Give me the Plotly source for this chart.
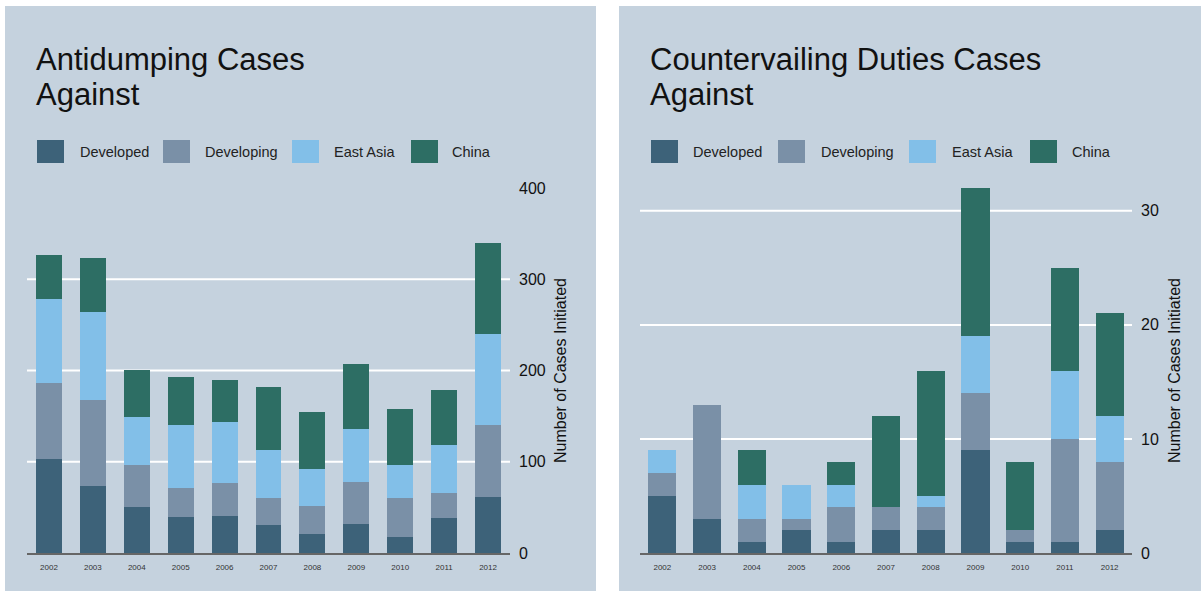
import plotly.graph_objects as go

# ---------------- data ----------------
years = ["2002", "2003", "2004", "2005", "2006", "2007", "2008", "2009", "2010", "2011", "2012"]
series_names = ["Developed", "Developing", "East Asia", "China"]

ad_developed = [103, 73, 50, 39, 41, 31, 21, 32, 17, 38, 61]
ad_developing = [83, 95, 46, 32, 36, 29, 31, 46, 43, 28, 79]
ad_east_asia = [92, 96, 53, 69, 67, 53, 40, 58, 36, 52, 100]
ad_china = [49, 59, 52, 53, 46, 69, 63, 71, 62, 61, 100]

cvd_developed = [5, 3, 1, 2, 1, 2, 2, 9, 1, 1, 2]
cvd_developing = [2, 10, 2, 1, 3, 2, 2, 5, 1, 9, 6]
cvd_east_asia = [2, 0, 3, 3, 2, 0, 1, 5, 0, 6, 4]
cvd_china = [0, 0, 3, 0, 2, 8, 11, 13, 6, 9, 9]

ad_ticks = [0, 100, 200, 300, 400]
cvd_ticks = [0, 10, 20, 30]

title_left = ["Antidumping Cases", "Against"]
title_right = ["Countervailing Duties Cases", "Against"]
axis_title = "Number of Cases Initiated"

# ---------------- style ----------------
W, H = 1201, 591
colors = ["#3d6279", "#7a90a7", "#82bfe8", "#2d6e64"]
panel_bg = "#c5d2de"
FONT = "Liberation Sans, Arial, sans-serif"


def px_x(x):
    return x / W


def px_y(y):
    return 1 - y / H


fig = go.Figure()

ad_series = [ad_developed, ad_developing, ad_east_asia, ad_china]
cvd_series = [cvd_developed, cvd_developing, cvd_east_asia, cvd_china]

for name, vals, col in zip(series_names, ad_series, colors):
    fig.add_trace(go.Bar(x=years, y=vals, name=name, marker=dict(color=col, line=dict(width=0)),
                         width=0.59, xaxis="x", yaxis="y", showlegend=False))
for name, vals, col in zip(series_names, cvd_series, colors):
    fig.add_trace(go.Bar(x=years, y=vals, name=name, marker=dict(color=col, line=dict(width=0)),
                         width=0.63, xaxis="x2", yaxis="y2", showlegend=False))

shapes = []
annotations = []

# panel backgrounds
shapes.append(dict(type="rect", xref="paper", yref="paper", x0=px_x(5), x1=px_x(596),
                   y0=0, y1=px_y(6), fillcolor=panel_bg, line=dict(width=0), layer="below"))
shapes.append(dict(type="rect", xref="paper", yref="paper", x0=px_x(619), x1=1,
                   y0=0, y1=px_y(6), fillcolor=panel_bg, line=dict(width=0), layer="below"))

# gridlines (white, excluding zero and top)
for t in ad_ticks[1:-1]:
    shapes.append(dict(type="line", xref="x domain", yref="y", x0=0, x1=1, y0=t, y1=t,
                       line=dict(color="white", width=2), layer="below"))
for t in cvd_ticks[1:]:
    shapes.append(dict(type="line", xref="x2 domain", yref="y2", x0=0, x1=1, y0=t, y1=t,
                       line=dict(color="white", width=2), layer="below"))

# titles
for lines, x0 in ((title_left, 37), (title_right, 651)):
    for i, line in enumerate(lines):
        annotations.append(dict(text=line, xref="paper", yref="paper", x=px_x(x0 - 3),
                                y=px_y(59 + 35 * i), xanchor="left", yanchor="middle",
                                showarrow=False, font=dict(size=31, color="#111", family=FONT)))

# legends
legend_left_sq = [37, 163, 292, 411]
legend_left_tx = [80, 205, 334, 452]
legend_right_sq = [651, 778, 909, 1030]
legend_right_tx = [693, 821, 952, 1072]
for sqs, txs in ((legend_left_sq, legend_left_tx), (legend_right_sq, legend_right_tx)):
    for name, col, sx, tx in zip(series_names, colors, sqs, txs):
        shapes.append(dict(type="rect", xref="paper", yref="paper", x0=px_x(sx), x1=px_x(sx + 27),
                           y0=px_y(163), y1=px_y(140), fillcolor=col, line=dict(width=0)))
        annotations.append(dict(text=name, xref="paper", yref="paper", x=px_x(tx - 2), y=px_y(152),
                                xanchor="left", yanchor="middle", showarrow=False,
                                font=dict(size=14.5, color="#222", family=FONT)))

ydom = [px_y(553), px_y(188)]
xaxis_common = dict(type="category", showgrid=False, showline=True, linecolor="#666", linewidth=2,
                    ticks="", tickfont=dict(size=8, color="#333", family=FONT), range=[-0.5, 10.5],
                    fixedrange=True, zeroline=False, automargin=False, ticklabelstandoff=5)
yaxis_common = dict(side="right", showgrid=False, zeroline=False, ticks="", showline=False,
                    tickfont=dict(size=16, color="#111", family=FONT), ticklabelstandoff=8,
                    automargin=False, fixedrange=True,
                    title=dict(text=axis_title, font=dict(size=16, color="#111", family=FONT), standoff=10))

fig.update_layout(
    width=W, height=H, margin=dict(l=0, r=0, t=0, b=0, autoexpand=False),
    paper_bgcolor="white", plot_bgcolor="rgba(0,0,0,0)",
    barmode="stack", showlegend=False,
    font=dict(family=FONT),
    xaxis=dict(domain=[px_x(27), px_x(510)], anchor="y", **xaxis_common),
    yaxis=dict(domain=ydom, anchor="x", range=[0, 400], tickvals=ad_ticks, **yaxis_common),
    xaxis2=dict(domain=[px_x(640), px_x(1132)], anchor="y2", **xaxis_common),
    yaxis2=dict(domain=ydom, anchor="x2", range=[0, 32], tickvals=cvd_ticks, **yaxis_common),
    shapes=shapes, annotations=annotations,
)

fig.write_html("out.html")
